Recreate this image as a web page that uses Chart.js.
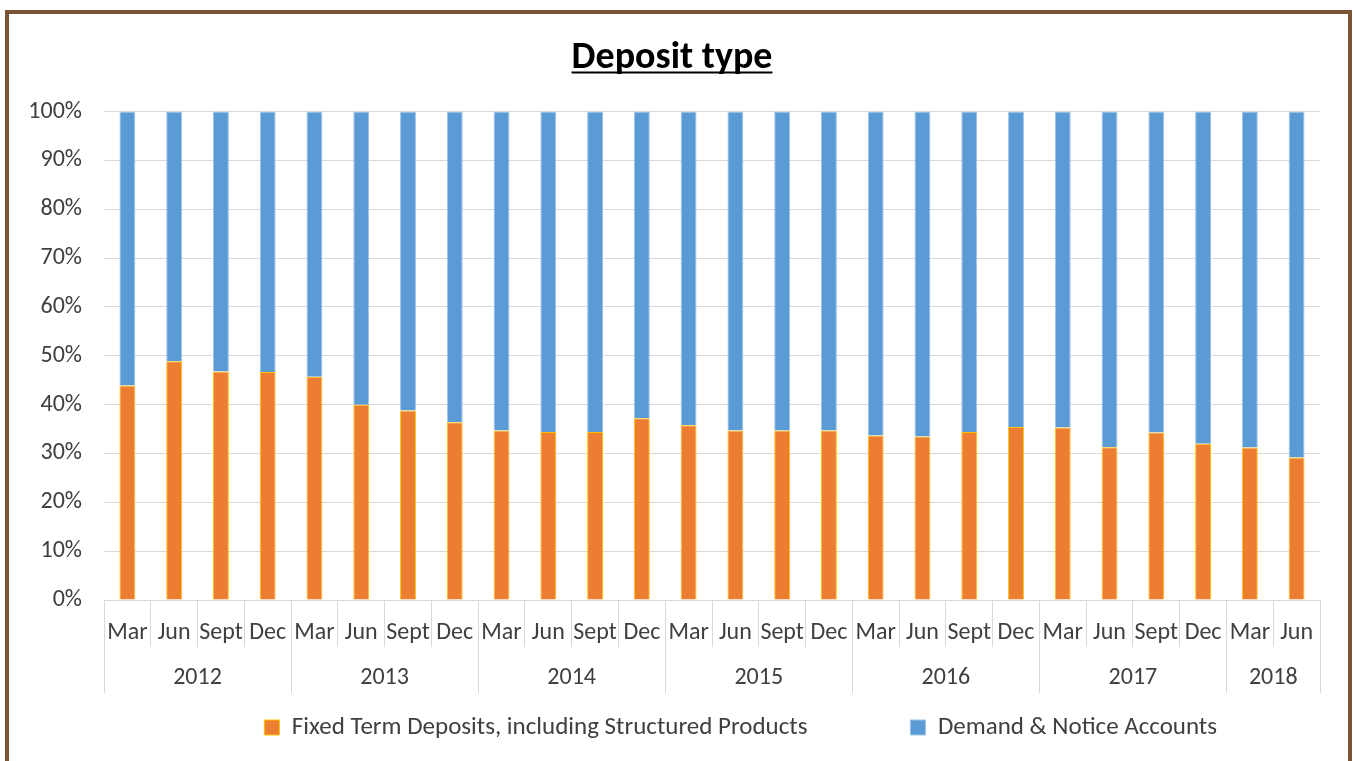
<!DOCTYPE html>
<html>
<head>
<meta charset="utf-8">
<title>Deposit type</title>
<script src="https://cdn.jsdelivr.net/npm/chart.js@4.4.1/dist/chart.umd.min.js"></script>
<style>
  html, body { margin: 0; padding: 0; background: #fff; overflow: hidden; }
  #frame {
    position: absolute; left: 5px; top: 10px; width: 1339px; height: 800px;
    border: 4px solid #7b5434;
  }
  #wrap { position: absolute; left: 0; top: 0; width: 1356px; height: 761px; }
</style>
</head>
<body>
<div id="frame"></div>
<div id="wrap"><canvas id="chartDeposit"></canvas></div>
<script>
// ========== DATA ==========
const quarters = ["Mar", "Jun", "Sept", "Dec", "Mar", "Jun", "Sept", "Dec", "Mar", "Jun", "Sept", "Dec",
  "Mar", "Jun", "Sept", "Dec", "Mar", "Jun", "Sept", "Dec", "Mar", "Jun", "Sept", "Dec", "Mar", "Jun"];
const years = ["2012", "2013", "2014", "2015", "2016", "2017", "2018"];
const quartersPerYear = [4, 4, 4, 4, 4, 4, 2];

const fixedTerm = [43.9, 48.9, 46.8, 46.7, 45.7, 40.0, 38.8, 36.4, 34.7, 34.4, 34.4, 37.2,
  35.8, 34.7, 34.7, 34.7, 33.7, 33.5, 34.4, 35.4, 35.3, 31.3, 34.3, 32.0, 31.2, 29.2];
const demandNotice = [56.1, 51.1, 53.2, 53.3, 54.3, 60.0, 61.2, 63.6, 65.3, 65.6, 65.6, 62.8,
  64.2, 65.3, 65.3, 65.3, 66.3, 66.5, 65.6, 64.6, 64.7, 68.7, 65.7, 68.0, 68.8, 70.8];

const yTicks = [0, 10, 20, 30, 40, 50, 60, 70, 80, 90, 100];

// ========== HELPERS ==========
const FONT = "Carlito, Lato, 'DejaVu Sans', sans-serif";
const TEXT = "#404040";
const GRID = "#d9d9d9";

// year boundaries and centres on the -0.5 .. n-0.5 index scale
const yearEdges = [-0.5];
const yearCentres = [];
quartersPerYear.forEach(n => {
  const start = yearEdges[yearEdges.length - 1];
  yearCentres.push(start + n / 2);
  yearEdges.push(start + n);
});

const underlineTitle = {
  id: "underlineTitle",
  afterDraw(chart) {
    const t = chart.titleBlock;
    if (!t) return;
    const ctx = chart.ctx;
    const opts = t.options;
    const f = Chart.helpers.toFont(opts.font);
    ctx.save();
    ctx.font = f.string;
    const w = ctx.measureText(opts.text).width;
    const cx = (t.left + t.right) / 2;
    const y = t.top + opts.padding.top + f.lineHeight / 2 + f.size * 0.36;
    ctx.strokeStyle = "#000";
    ctx.lineWidth = 2;
    ctx.beginPath();
    ctx.moveTo(cx - w / 2, y);
    ctx.lineTo(cx + w / 2, y);
    ctx.stroke();
    ctx.restore();
  }
};

// ========== CHART ==========
new Chart(document.getElementById("chartDeposit"), {
  type: "bar",
  data: {
    labels: quarters,
    datasets: [
      {
        label: "Fixed Term Deposits, including Structured Products",
        data: fixedTerm,
        backgroundColor: "#ed7d31",
        borderColor: "#ffc000",
        borderWidth: 1,
        barPercentage: 0.34,
        categoryPercentage: 1
      },
      {
        label: "Demand & Notice Accounts",
        data: demandNotice,
        backgroundColor: "#5b9bd5",
        borderColor: "#9dc3e6",
        borderWidth: 1,
        barPercentage: 0.34,
        categoryPercentage: 1
      }
    ]
  },
  options: {
    responsive: true,
    maintainAspectRatio: false,
    animation: false,
    layout: { padding: { left: 24, right: 36, top: 0, bottom: 11 } },
    plugins: {
      title: {
        display: true,
        text: "Deposit type",
        color: "#000",
        font: { family: FONT, size: 38, weight: "bold", lineHeight: 1.2 },
        padding: { top: 36, bottom: 30 }
      },
      legend: {
        position: "bottom",
        align: "end",
        labels: {
          color: TEXT,
          font: { family: FONT, size: 25 },
          boxWidth: 15,
          boxHeight: 15,
          padding: 103
        }
      },
      tooltip: { enabled: false }
    },
    scales: {
      x: {
        stacked: true,
        position: "bottom",
        afterFit(scale) { scale.height = 0; },
        grid: { offset: true, drawOnChartArea: false, color: GRID, tickLength: 47 },
        border: { color: GRID },
        ticks: {
          color: TEXT, font: { family: FONT, size: 24, lineHeight: 1.2 },
          autoSkip: false, maxRotation: 0, minRotation: 0,
          mirror: true, padding: -47
        }
      },
      x2: {
        type: "linear",
        position: "bottom",
        offset: false,
        min: -0.5,
        max: quarters.length - 0.5,
        afterFit(scale) { scale.height = 12; },
        afterBuildTicks(scale) {
          scale.ticks = yearEdges.concat(yearCentres).sort((a, b) => a - b).map(v => ({ value: v }));
        },
        grid: {
          offset: false,
          drawOnChartArea: false,
          tickLength: 93,
          color: ctx => (ctx.tick && yearEdges.includes(ctx.tick.value)) ? GRID : "rgba(0,0,0,0)"
        },
        border: { display: false },
        ticks: {
          color: TEXT, font: { family: FONT, size: 24, lineHeight: 1.2 },
          autoSkip: false, maxRotation: 0, minRotation: 0,
          mirror: true, padding: -92,
          callback: v => {
            const i = yearCentres.indexOf(v);
            return i >= 0 ? years[i] : "";
          }
        }
      },
      y: {
        stacked: true,
        min: 0,
        max: 100,
        afterFit(scale) { scale.width = 80; },
        afterBuildTicks(scale) { scale.ticks = yTicks.map(v => ({ value: v })); },
        grid: { color: GRID, drawTicks: false },
        border: { display: false },
        ticks: {
          color: TEXT, font: { family: FONT, size: 24 }, padding: 22,
          callback: v => v + "%"
        }
      }
    }
  },
  plugins: [underlineTitle]
});
</script>
</body>
</html>
